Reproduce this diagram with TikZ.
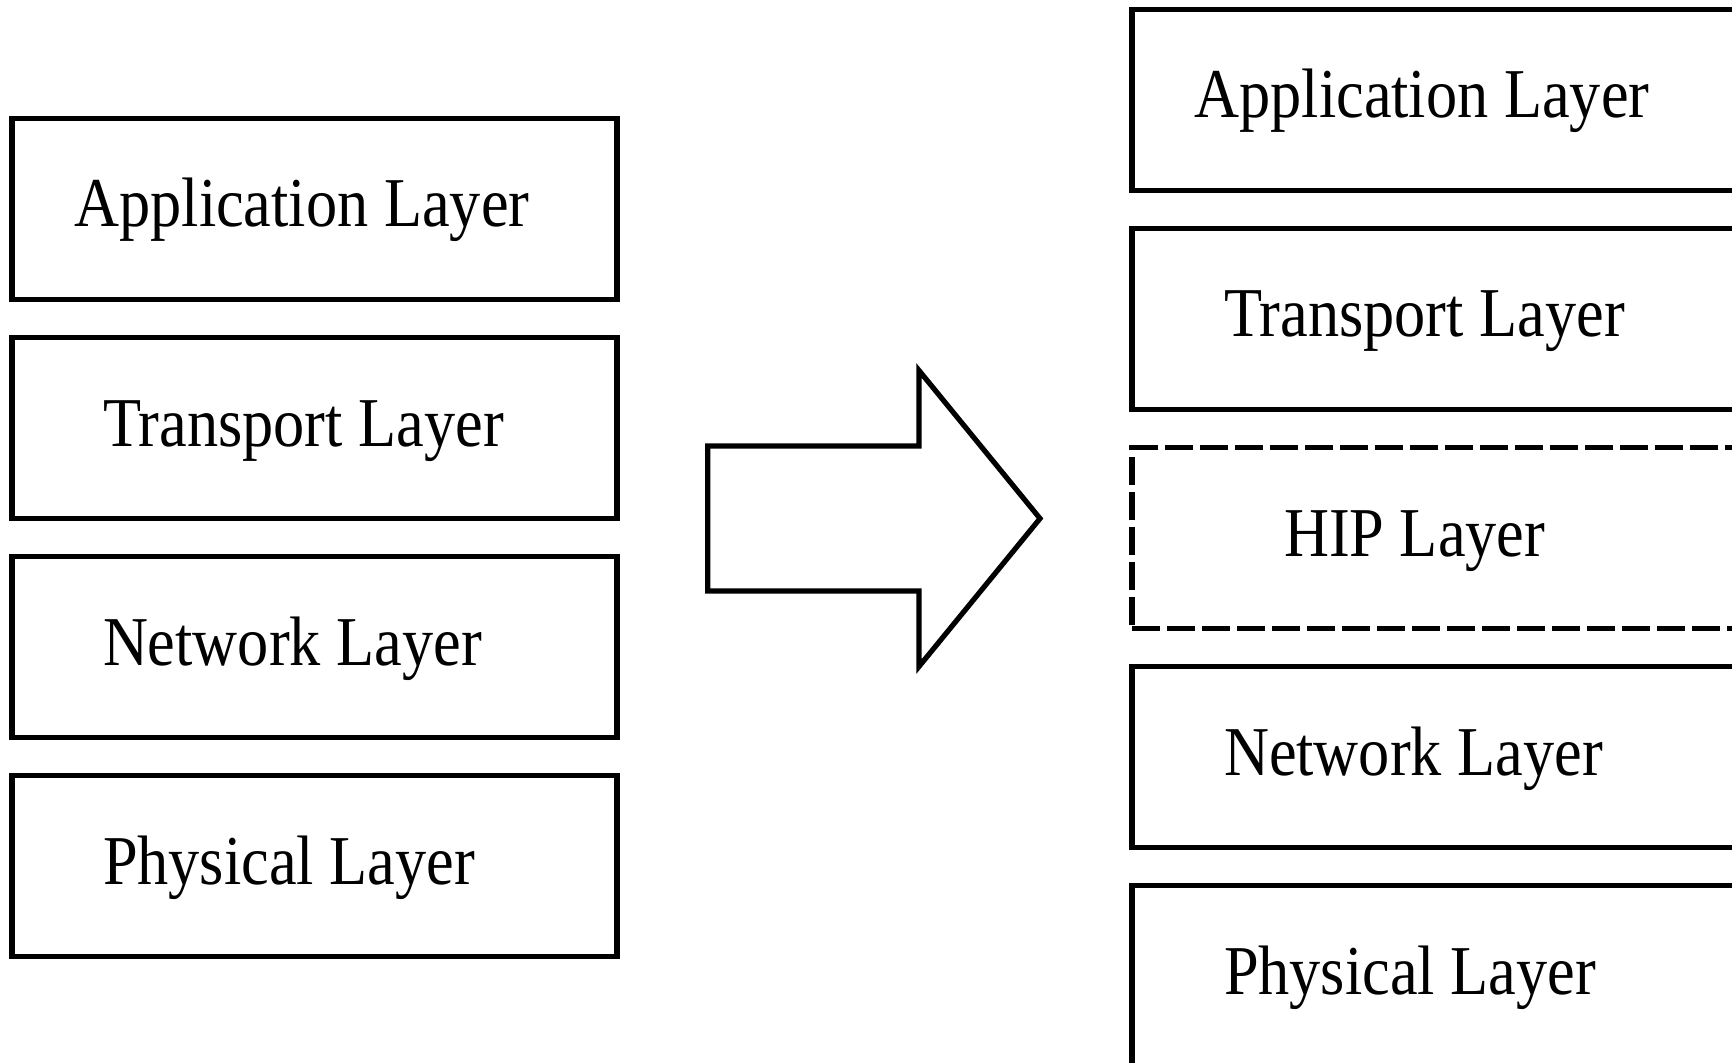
\documentclass[tikz,border=0pt]{standalone}
\usepackage{fontspec}
\setmainfont[FakeStretch=0.89]{Liberation Serif}
\usetikzlibrary{positioning}
\begin{document}
\begin{tikzpicture}[x=0.5pt, y=-0.5pt, node distance=16.4pt,
  layer/.style={draw, line width=2.6pt, minimum width=302.5pt,
    minimum height=90.5pt, inner sep=0pt},
  hiplayer/.style={layer, dash pattern=on 14pt off 3.5pt},
  lbl/.style={anchor=base west, inner sep=0pt,
    font=\fontsize{35}{42}\selectfont}]
  \path[use as bounding box] (0,0) rectangle (1732,1063);
  \clip (0,0) rectangle (1732,1063);
  % old stack
  \node[layer] (app) at (314.5,209) {};
  \node[layer, below=of app] (trans) {};
  \node[layer, below=of trans] (net) {};
  \node[layer, below=of net] (phys) {};
  \node[lbl] (app-t) at ([xshift=32.3pt, yshift=-9pt]app.west) {Application Layer};
  \node[lbl] (trans-t) at ([xshift=46.6pt, yshift=-9pt]trans.west) {Transport Layer};
  \node[lbl] (net-t) at ([xshift=46.6pt, yshift=-9pt]net.west) {Network Layer};
  \node[lbl] (phys-t) at ([xshift=46.6pt, yshift=-9pt]phys.west) {Physical Layer};
  % new stack
  \node[layer] (app2) at (1434.5,100) {};
  \node[layer, below=of app2] (trans2) {};
  \node[hiplayer, below=of trans2] (hip) {};
  \node[layer, below=of hip] (net2) {};
  \node[layer, below=of net2] (phys2) {};
  \node[lbl] (app2-t) at ([xshift=32.3pt, yshift=-9pt]app2.west) {Application Layer};
  \node[lbl] (trans2-t) at ([xshift=47.1pt, yshift=-9pt]trans2.west) {Transport Layer};
  \node[lbl] (hip-t) at ([xshift=77.1pt, yshift=-9pt]hip.west) {HIP Layer};
  \node[lbl] (net2-t) at ([xshift=47.1pt, yshift=-9pt]net2.west) {Network Layer};
  \node[lbl] (phys2-t) at ([xshift=47.1pt, yshift=-9pt]phys2.west) {Physical Layer};
  % big arrow
  \draw[line width=2.6pt] (707.7,446) -- (919,446) -- (919,370.5) -- (1040,518.5)
    -- (919,666.5) -- (919,591) -- (707.7,591) -- cycle;
\end{tikzpicture}
\end{document}
